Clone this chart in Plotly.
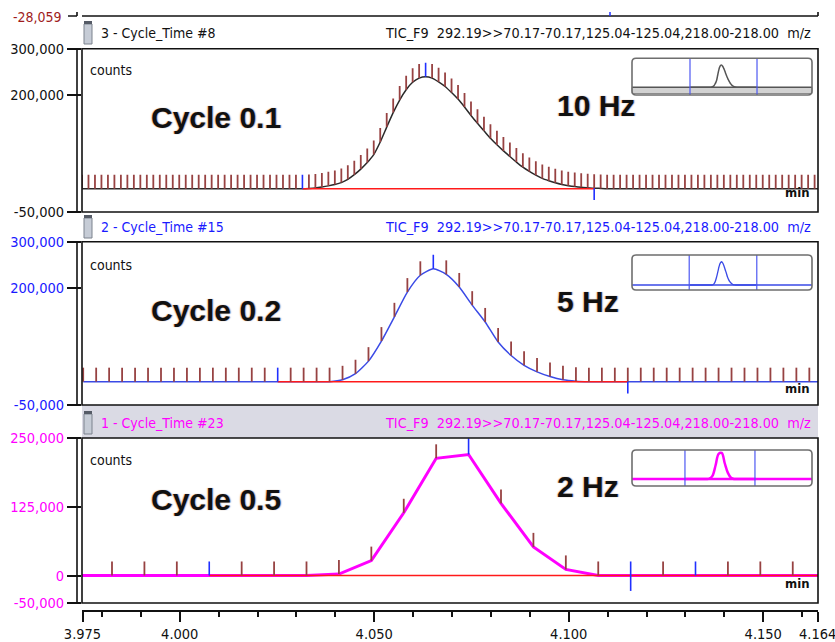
import plotly.graph_objects as go

# --------------------------------------------------------------------------
# TIC_F9 292.19>>70.17,125.04,218.00 acquired with three cycle times
# --------------------------------------------------------------------------
X_START, X_END = 3.975, 4.164            # displayed retention-time window (min)

# cycle time (s) and retention time of the first listed scan (min)
cycle_s = {"10 Hz": 0.1, "5 Hz": 0.2, "2 Hz": 0.5}
first_scan_min = {"10 Hz": 3.97487, "5 Hz": 3.97518, "2 Hz": 3.97425}

counts_10hz = [
    0, 0, 0, 0, 0, 0, 0, 0, 0, 0,
    0, 0, 0, 0, 0, 0, 0, 0, 0, 0,
    0, 0, 0, 0, 0, 0, 0, 0, 0, 0,
    0, 0, 0, 0,
    0, 500, 1500, 3500, 6000, 9000, 13000, 20000, 30000, 42000,
    56000, 73000, 100000, 132000, 163000, 190000, 212000, 228000, 237000, 240000,
    237000, 229000, 219000, 206000, 192000, 175000, 157000, 140000, 124000, 108000,
    94000, 81000, 69000, 57000, 46000, 37000, 29000, 22000, 17000, 12500,
    9000, 6500, 4500, 3000, 2000, 1000, 500,
    0, 0, 0, 0, 0, 0, 0, 0, 0, 0,
    0, 0, 0, 0, 0, 0, 0, 0, 0, 0,
    0, 0, 0, 0, 0, 0, 0, 0, 0, 0,
    0, 0, 0, 0,
]

counts_5hz = [
    0, 0, 0, 0, 0, 0, 0, 0, 0, 0,
    0, 0, 0, 0, 0, 0, 0, 0, 0, 0,
    4000, 17000, 44000, 87000, 139000, 192000, 228000, 242000, 230000, 203000,
    164000, 128000, 85000, 56000, 35000, 21000, 11000, 4000, 1000,
    0, 0, 0, 0, 0, 0, 0, 0, 0, 0,
    0, 0, 0, 0, 0, 0, 0, 0, 0,
]

counts_2hz = [
    0, 0, 0, 0, 0, 0, 0, 0,
    2500, 27000, 114000, 213000, 220000, 131000, 52000, 11000,
    0, 0, 0, 0, 0, 0, 0, 0,
]

# integration markers (scan indices)
peak_start = {"10 Hz": 34, "5 Hz": 15, "2 Hz": 4}
peak_apex = {"10 Hz": 53, "5 Hz": 27, "2 Hz": 12}
peak_end = {"10 Hz": 79, "5 Hz": 42, "2 Hz": 17}
extra_marker = {"2 Hz": 19}

x_tick_vals = [3.975, 4.000, 4.050, 4.100, 4.150, 4.164]
x_tick_text = ["3.975", "4.000", "4.050", "4.100", "4.150", "4.164"]
x_minor_vals = [3.98, 3.99, 4.01, 4.02, 4.03, 4.04, 4.06, 4.07, 4.08,
                4.09, 4.11, 4.12, 4.13, 4.14, 4.16]

# --------------------------------------------------------------------------
# page geometry (pixels) and helpers
# --------------------------------------------------------------------------
W, H = 835, 642
PL, PR, PT, PB = 82, 818, 0, 611

def fx(px):
    return (px - PL) / (PR - PL)

def fy(px):
    return (PB - px) / (PB - PT)

NARROW = "DejaVu Sans Condensed, Liberation Sans Narrow, Arial Narrow, sans-serif"
SANS = "Liberation Sans, Arial, sans-serif"
BROWN = "#974242"
RED = "#ff1a1a"
MARK_BLUE = "#2030ff"

panels = [
    dict(key="10 Hz", counts=counts_10hz, box=(48.7, 212), yrange=[-50000, 300000],
         tickvals=[300000, 200000, -50000], ticktext=["300,000", "200,000", "-50,000"],
         minor=[250000, 0], tick_len=30000, axis_color="#111111",
         line=dict(color="#2a2a2a", width=1.5, shape="spline", smoothing=0.6),
         header_y=33, header_color="#111111", header_bg=None, header_top=16,
         title="Cycle 0.1", title_y=117, hz_y=106,
         inset_box=(632, 58.3, 812, 95), inset_x=[3.8114, 4.3191], inset_y=[-83000, 312000],
         inset_line=dict(color="#555555", width=1.5), band=True,
         counts_y=70, min_y=193),
    dict(key="5 Hz", counts=counts_5hz, box=(241.7, 405), yrange=[-50000, 300000],
         tickvals=[300000, 200000, -50000], ticktext=["300,000", "200,000", "-50,000"],
         minor=[250000, 0], tick_len=30000, axis_color="#1a1aff",
         line=dict(color="#3a4ae6", width=1.5, shape="spline", smoothing=0.6),
         header_y=227, header_color="#1a1aff", header_bg=None, header_top=212,
         title="Cycle 0.2", title_y=310, hz_y=301,
         inset_box=(632, 255, 812, 290), inset_x=[3.815, 4.3184], inset_y=[-52000, 312000],
         inset_line=dict(color="#3a4ae6", width=1.3), band=False,
         counts_y=265, min_y=388),
    dict(key="2 Hz", counts=counts_2hz, box=(438, 603), yrange=[-50000, 250000],
         tickvals=[250000, 125000, 0, -50000], ticktext=["250,000", "125,000", "0", "-50,000"],
         minor=[225000, 200000, 175000, 150000, 100000, 75000, 50000, 25000, -25000],
         tick_len=25500, axis_color="#ff00ff",
         line=dict(color="#ff00ff", width=3),
         header_y=423, header_color="#ff00ff", header_bg="#dadae4", header_top=405,
         title="Cycle 0.5", title_y=499, hz_y=486,
         inset_box=(632, 450, 812, 486), inset_x=[3.832, 4.318], inset_y=[-59000, 245000],
         inset_line=dict(color="#ff00ff", width=2.5), band=False,
         counts_y=460, min_y=583),
]
header_left = ["3 - Cycle_Time #8", "2 - Cycle_Time #15", "1 - Cycle_Time #23"]
header_right = "TIC_F9  292.19>>70.17-70.17,125.04-125.04,218.00-218.00  m/z"

fig = go.Figure()
shapes, annotations = [], []
layout_axes = {}
n_y = 7   # next free y axis number (minor-tick overlays)

for n, p in enumerate(panels):
    key = p["key"]
    vals = p["counts"]
    cyc = cycle_s[key] / 60.0
    times = [first_scan_min[key] + i * cyc for i in range(len(vals))]
    yname = "y" if n == 0 else f"y{n + 1}"
    ylay = "yaxis" if n == 0 else f"yaxis{n + 1}"
    top, bot = p["box"]

    # chromatogram trace
    fig.add_trace(go.Scatter(x=times, y=vals, xaxis="x", yaxis=yname, mode="lines",
                             line=p["line"], hoverinfo="skip", showlegend=False))
    # integration baseline
    s, e = peak_start[key], peak_end[key]
    b_end = len(vals) - 1 if key == "2 Hz" else e
    fig.add_trace(go.Scatter(x=[times[s], times[b_end]], y=[0, 0], xaxis="x", yaxis=yname,
                             mode="lines", line=dict(color=RED, width=1.5),
                             hoverinfo="skip", showlegend=False))
    # scan ticks
    blue_idx = {s, peak_apex[key]}
    if key == "2 Hz":
        blue_idx |= {e, extra_marker[key]}
    brown = [i for i in range(len(vals)) if i not in blue_idx]
    fig.add_trace(go.Scatter(
        x=[times[i] for i in brown], y=[vals[i] for i in brown], xaxis="x", yaxis=yname,
        mode="markers", marker=dict(size=1, color="rgba(0,0,0,0)"),
        error_y=dict(type="data", symmetric=False, array=[p["tick_len"]] * len(brown),
                     arrayminus=[0] * len(brown), color=BROWN, thickness=1.8, width=0),
        hoverinfo="skip", showlegend=False))
    # marker ticks (start / apex / end)
    bidx = sorted(blue_idx | {e})
    up, down = [], []
    for i in bidx:
        if i == e and key != "2 Hz":
            up.append(0); down.append(p["tick_len"] * 0.85)
        elif i == e:
            up.append(p["tick_len"]); down.append(p["tick_len"] * 1.1)
        elif i == peak_apex[key] and key == "2 Hz":
            up.append(p["tick_len"] * 1.15); down.append(0)
        else:
            up.append(p["tick_len"]); down.append(0)
    fig.add_trace(go.Scatter(
        x=[times[i] for i in bidx], y=[vals[i] for i in bidx], xaxis="x", yaxis=yname,
        mode="markers", marker=dict(size=1, color="rgba(0,0,0,0)"),
        error_y=dict(type="data", symmetric=False, array=up, arrayminus=down,
                     color=MARK_BLUE, thickness=1.6, width=0),
        hoverinfo="skip", showlegend=False))

    dom = [fy(bot), fy(top)]
    layout_axes[ylay] = dict(
        domain=dom, range=p["yrange"], anchor="x", automargin=False,
        showline=False, showgrid=False, zeroline=False,
        tickmode="array", tickvals=p["tickvals"], ticktext=p["ticktext"],
        ticks="outside", ticklen=14, tickwidth=1.5, tickcolor="#111111",
        tickfont=dict(family=NARROW, size=14.5, color=p["axis_color"]),
        fixedrange=True)
    # short (unlabelled) ticks on an overlaid axis
    layout_axes[f"yaxis{n_y}"] = dict(
        domain=dom, range=p["yrange"], anchor="x", overlaying=yname, automargin=False,
        showline=False, showgrid=False, zeroline=False, showticklabels=False,
        tickmode="array", tickvals=p["minor"], ticks="outside", ticklen=10,
        tickwidth=1.5, tickcolor="#111111", fixedrange=True)
    n_y += 1

    # header strip
    if p["header_bg"]:
        shapes.append(dict(type="rect", xref="paper", yref="paper", x0=0, x1=1,
                           y0=fy(top), y1=fy(p["header_top"]), fillcolor=p["header_bg"],
                           line=dict(width=0), layer="below"))
    hy = p["header_y"]
    shapes.append(dict(type="rect", xref="paper", yref="paper", x0=fx(84), x1=fx(92),
                       y0=fy(hy + 11), y1=fy(hy - 9), fillcolor="#c6ccd6",
                       line=dict(color="#7d838e", width=1)))
    shapes.append(dict(type="rect", xref="paper", yref="paper", x0=fx(84), x1=fx(92),
                       y0=fy(hy - 9), y1=fy(hy - 12), fillcolor="#555b66",
                       line=dict(width=0)))
    annotations.append(dict(text=header_left[n], xref="paper", yref="paper",
                            x=fx(99), y=fy(hy), xanchor="left", yanchor="middle",
                            showarrow=False,
                            font=dict(family=NARROW, size=14, color=p["header_color"])))
    annotations.append(dict(text=header_right, xref="paper", yref="paper",
                            x=fx(813), y=fy(hy), xanchor="right", yanchor="middle",
                            showarrow=False,
                            font=dict(family=NARROW, size=14.3, color=p["header_color"])))

    # plot box and detached y axis line
    shapes.append(dict(type="rect", xref="paper", yref="paper", x0=0, x1=1,
                       y0=fy(bot), y1=fy(top), line=dict(color="#111111", width=1.6)))
    shapes.append(dict(type="line", xref="paper", yref="paper", x0=fx(77), x1=fx(77),
                       y0=fy(bot), y1=fy(top), line=dict(color="#111111", width=1.6)))

    # in-box labels
    annotations.append(dict(text="counts", xref="paper", yref="paper", x=fx(88),
                            y=fy(p["counts_y"]), xanchor="left", yanchor="middle",
                            showarrow=False, font=dict(family=NARROW, size=14, color="#111")))
    annotations.append(dict(text="<b>min</b>", xref="paper", yref="paper", x=fx(783),
                            y=fy(p["min_y"]), xanchor="left", yanchor="middle",
                            showarrow=False, font=dict(family=NARROW, size=13, color="#111")))
    big = dict(family=SANS, size=30, color="#111111",
               shadow="-1px 0px 1px rgba(235,150,40,0.55), 1px 0px 1px rgba(40,70,170,0.45)")
    annotations.append(dict(text=f"<b>{p['title']}</b>", xref="paper", yref="paper",
                            x=fx(149), y=fy(p["title_y"]), xanchor="left", yanchor="middle",
                            showarrow=False, font=big))
    annotations.append(dict(text=f"<b>{key}</b>", xref="paper", yref="paper",
                            x=fx(555), y=fy(p["hz_y"]), xanchor="left", yanchor="middle",
                            showarrow=False, font=big))

    # overview inset: whole run with the displayed window highlighted
    xa = f"x{n + 2}"
    ya = f"y{n + 4}"
    x0p, y0p, x1p, y1p = p["inset_box"]
    layout_axes[f"xaxis{n + 2}"] = dict(domain=[fx(x0p), fx(x1p)], range=p["inset_x"],
                                        anchor=ya, visible=False, fixedrange=True,
                                        automargin=False)
    layout_axes[f"yaxis{n + 4}"] = dict(domain=[fy(y1p), fy(y0p)], range=p["inset_y"],
                                        anchor=xa, visible=False, fixedrange=True,
                                        automargin=False)
    shapes.append(dict(type="rect", xref=xa, yref=f"{ya} domain", x0=X_START, x1=X_END,
                       y0=0, y1=1, fillcolor="#ededfb", line=dict(width=0), layer="below"))
    if p["band"]:
        shapes.append(dict(type="rect", xref="paper", yref="paper", x0=fx(x0p), x1=fx(x1p),
                           y0=fy(y1p - 1.5), y1=fy(y1p - 7.5), fillcolor="#d2d2d2",
                           line=dict(color="#8c8c8c", width=1)))
    shapes.append(dict(type="line", xref=xa, yref=ya, x0=p["inset_x"][0], x1=p["inset_x"][1],
                       y0=0, y1=0, line=p["inset_line"]))
    fig.add_trace(go.Scatter(x=times, y=vals, xaxis=xa, yaxis=ya, mode="lines",
                             line=dict(p["inset_line"], shape="spline"),
                             hoverinfo="skip", showlegend=False))
    for xv in (X_START, X_END):
        shapes.append(dict(type="line", xref=xa, yref=f"{ya} domain", x0=xv, x1=xv,
                           y0=0, y1=1, line=dict(color="#4d58f2", width=1.2)))
    # rounded frame
    rx, ry = 4 / (PR - PL), 4 / (PB - PT)
    X0, X1, YT, YB = fx(x0p), fx(x1p), fy(y0p), fy(y1p)
    path = (f"M{X0 + rx},{YT} L{X1 - rx},{YT} Q{X1},{YT} {X1},{YT - ry} "
            f"L{X1},{YB + ry} Q{X1},{YB} {X1 - rx},{YB} L{X0 + rx},{YB} "
            f"Q{X0},{YB} {X0},{YB + ry} L{X0},{YT - ry} Q{X0},{YT} {X0 + rx},{YT} Z")
    shapes.append(dict(type="path", xref="paper", yref="paper", path=path,
                       line=dict(color="#6e6e6e", width=1.6)))

# remnant of the panel above (cut at the page top)
shapes += [
    dict(type="line", xref="paper", yref="paper", x0=0, x1=1, y0=fy(16), y1=fy(16),
         line=dict(color="#111111", width=1.6)),
    dict(type="line", xref="paper", yref="paper", x0=1, x1=1, y0=fy(12), y1=fy(16),
         line=dict(color="#111111", width=1.6)),
    dict(type="line", xref="paper", yref="paper", x0=fx(77), x1=fx(77), y0=fy(12), y1=fy(16),
         line=dict(color="#111111", width=1.6)),
    dict(type="line", xref="paper", yref="paper", x0=fx(68), x1=fx(77), y0=fy(16), y1=fy(16),
         line=dict(color="#111111", width=1.5)),
    dict(type="line", xref="paper", yref="paper", x0=fx(610), x1=fx(610), y0=fy(12), y1=fy(16),
         line=dict(color=MARK_BLUE, width=1.5)),
]
annotations.append(dict(text="-28,059", xref="paper", yref="paper", x=fx(64), y=fy(17),
                        xanchor="right", yanchor="middle", showarrow=False,
                        font=dict(family=NARROW, size=14, color="#a01c1c")))

fig.update_layout(
    template="none",
    width=W, height=H, margin=dict(l=PL, r=W - PR, t=PT, b=H - PB, autoexpand=False),
    paper_bgcolor="white", plot_bgcolor="white", showlegend=False,
    xaxis=dict(domain=[0, 1], range=[X_START - 0.5 / 3890, X_START - 0.5 / 3890 + 736 / 3890],
               anchor="free", position=0, automargin=False, ticklabeloverflow="allow",
               showline=True, linecolor="#111111", linewidth=1.6,
               showgrid=False, zeroline=False, tickmode="array", tickvals=x_tick_vals,
               ticktext=x_tick_text, ticks="outside", ticklen=10, tickwidth=1.5,
               tickcolor="#111111", tickfont=dict(family=NARROW, size=14.5, color="#111111"),
               minor=dict(tickmode="array", tickvals=x_minor_vals,
                          ticks="outside", ticklen=5, tickwidth=1.5, tickcolor="#111111"),
               fixedrange=True),
    shapes=shapes, annotations=annotations,
    **layout_axes,
)

fig.write_html("out.html")
